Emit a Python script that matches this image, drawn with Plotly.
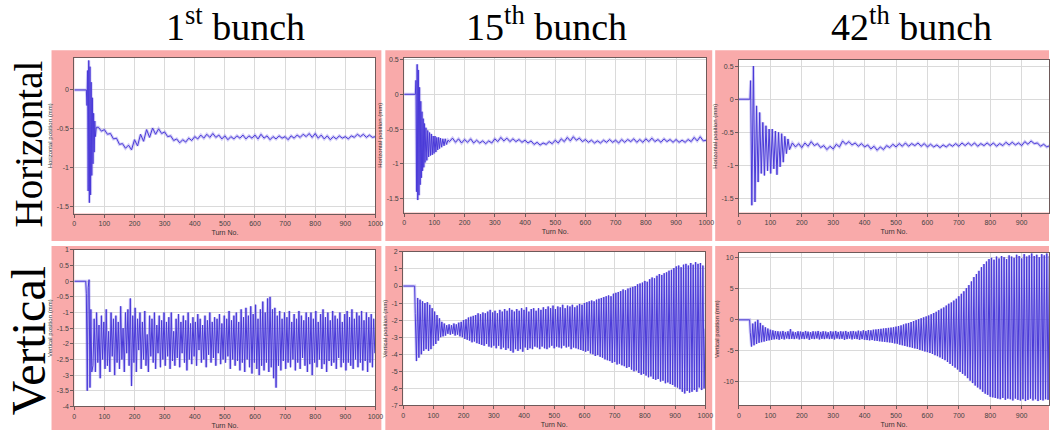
import plotly.graph_objects as go

W, H = 1057, 433

# ---------------- turn-by-turn beam position readings ----------------
# Horizontal, 1st bunch
h1_turn = [0, 40, 42, 44, 46, 48, 50, 52, 54, 56, 58, 60, 62, 64, 66, 68, 70, 73] + list(range(80, 1001, 10))
h1_pos = [0, 0, -0.2, 0.25, -1.3, 0.38, -1.45, 0.3, -1.35, 0.1, -1.1, -0.1, -0.95, -0.3, -0.8, -0.4, -0.6, -0.48,
          -0.48, -0.53, -0.51, -0.57, -0.56, -0.63, -0.62, -0.70, -0.69, -0.75, -0.71, -0.77, -0.64, -0.72, -0.57,
          -0.66, -0.51, -0.61, -0.49, -0.57, -0.50, -0.56, -0.54, -0.60, -0.59, -0.65, -0.63, -0.68, -0.64, -0.67,
          -0.62, -0.65, -0.60, -0.63, -0.58, -0.62, -0.57, -0.61, -0.56, -0.61, -0.58, -0.63, -0.59, -0.64, -0.60,
          -0.63, -0.59, -0.62, -0.58, -0.63, -0.59, -0.62, -0.58, -0.63, -0.57, -0.62, -0.59, -0.64, -0.60, -0.63,
          -0.59, -0.62, -0.60, -0.64, -0.59, -0.62, -0.58, -0.61, -0.57, -0.60, -0.56, -0.61, -0.56, -0.62, -0.58,
          -0.63, -0.59, -0.64, -0.60, -0.63, -0.59, -0.62, -0.60, -0.63, -0.59, -0.61, -0.57, -0.60, -0.57, -0.61,
          -0.58, -0.61, -0.60]

# Horizontal, 15th bunch
h2_turn = [0, 37, 39, 41, 43, 45, 47, 49, 51, 53, 55, 57, 59, 61, 63, 65, 67, 69, 72, 75,
           78, 81, 84, 87, 90, 93, 96, 99, 102, 105, 108, 111, 114, 117, 120, 124, 128, 132, 136, 140,
           145] + list(range(150, 1001, 10))
h2_pos = [0, 0, 0.2, -1.4, 0.43, -1.52, 0.35, -1.45, 0.1, -1.3, -0.1, -1.2, -0.25, -1.1, -0.35, -1.05, -0.42,
          -0.98, -0.48, -0.95, -0.52, -0.9, -0.55, -0.88, -0.57, -0.87, -0.6, -0.85, -0.6, -0.83, -0.62, -0.8,
          -0.62, -0.78, -0.63, -0.76, -0.64, -0.74, -0.64, -0.72, -0.66,
          -0.68, -0.63, -0.69, -0.64, -0.70, -0.65, -0.69, -0.64, -0.70, -0.66, -0.70, -0.67, -0.71, -0.67, -0.70,
          -0.64, -0.68, -0.62, -0.67, -0.63, -0.68, -0.64, -0.68, -0.65, -0.69, -0.66, -0.70, -0.67, -0.72, -0.69,
          -0.73, -0.70, -0.72, -0.68, -0.71, -0.66, -0.70, -0.64, -0.68, -0.62, -0.67, -0.61, -0.66, -0.63, -0.68,
          -0.65, -0.69, -0.66, -0.70, -0.67, -0.70, -0.66, -0.69, -0.65, -0.69, -0.66, -0.70, -0.65, -0.69, -0.65,
          -0.68, -0.64, -0.69, -0.65, -0.69, -0.64, -0.68, -0.63, -0.68, -0.65, -0.69, -0.64, -0.68, -0.65, -0.69,
          -0.65, -0.69, -0.66, -0.69, -0.65, -0.68, -0.62, -0.67, -0.61, -0.67, -0.66]

# Horizontal, 42th bunch
h3_turn = [0, 35, 37, 41, 46, 51, 56, 61, 66, 71, 76, 81, 86, 91, 96, 101, 106, 111, 116, 121,
           126, 131, 136, 141, 146, 151, 156, 161] + list(range(170, 991, 10))
h3_pos = [0, 0, 0.28, -1.6, 0.5, -1.55, -0.1, -1.25, -0.2, -1.12, -0.35, -1.15, -0.4, -1.08, -0.45, -1.12,
          -0.45, -1.05, -0.48, -1.14, -0.5, -1.02, -0.52, -0.95, -0.56, -0.82, -0.6, -0.76,
          -0.66, -0.72, -0.67, -0.73, -0.66, -0.71, -0.64, -0.70, -0.67, -0.73, -0.70, -0.76, -0.71, -0.75, -0.68,
          -0.72, -0.63, -0.68, -0.64, -0.69, -0.66, -0.71, -0.67, -0.72, -0.69, -0.75, -0.71, -0.77, -0.72, -0.76,
          -0.70, -0.73, -0.68, -0.72, -0.67, -0.71, -0.66, -0.71, -0.67, -0.70, -0.66, -0.71, -0.67, -0.72, -0.68,
          -0.72, -0.69, -0.73, -0.69, -0.72, -0.68, -0.71, -0.67, -0.71, -0.66, -0.70, -0.66, -0.70, -0.66, -0.71,
          -0.67, -0.70, -0.66, -0.70, -0.66, -0.71, -0.67, -0.70, -0.65, -0.69, -0.65, -0.69, -0.66, -0.70, -0.64,
          -0.68, -0.63, -0.67, -0.66, -0.71, -0.68, -0.72, -0.70]

# Vertical, 1st bunch
v1_turn = [0, 38, 40, 43, 46, 49, 52, 55, 58] + list(range(62, 1001, 4))
v1_pos = [0, 0, -0.4, -3.5, -0.2, 0.05, -3.4, -0.9, -2.9,
          -2.7, -1.2, -2.9, -1.0, -2.6, -1.4, -3.1, -1.1, -2.5, -1.3,
          -2.8, -0.9, -2.7, -1.6, -2.9, -1.0, -2.4, -1.2, -3.0, -1.1,
          -2.6, -1.3, -2.8, -0.8, -2.5, -1.5, -2.9, -1.0, -2.3, -0.9,
          -2.7, -0.55, -3.35, -1.1, -2.6, -0.85, -2.9, -1.2, -2.2, -1.0,
          -2.8, -1.3, -2.5, -0.95, -2.7, -1.7, -2.9, -1.1, -2.4, -1.2,
          -2.6, -1.0, -2.8, -1.4, -2.3, -1.1, -2.75, -1.25, -2.5, -1.0,
          -2.7, -1.3, -2.4, -1.15, -2.8, -1.0, -2.55, -1.6, -2.7, -1.2,
          -2.45, -1.05, -2.75, -1.3, -2.3, -1.1, -2.6, -1.25, -2.85, -1.0,
          -2.5, -1.35, -2.65, -1.15, -2.4, -1.3, -2.7, -1.05, -2.2, -1.2,
          -2.6, -1.4, -2.5, -1.1, -2.75, -1.25, -2.35, -1.0, -2.6, -1.3,
          -2.45, -1.15, -2.7, -1.2, -2.3, -1.05, -2.65, -1.35, -2.5, -1.1,
          -2.6, -1.2, -2.4, -0.95, -2.8, -1.25, -2.5, -1.1, -2.7, -1.0,
          -2.55, -1.3, -2.85, -0.9, -2.6, -1.15, -2.9, -0.85, -2.5, -1.1,
          -2.75, -0.8, -2.95, -1.05, -2.6, -0.75, -2.8, -1.2, -3.0, -0.9,
          -2.7, -0.65, -2.85, -1.0, -2.6, -0.55, -2.9, -0.5, -2.75, -0.9,
          -3.1, -0.85, -3.4, -1.1, -2.7, -0.95, -2.85, -1.2, -2.55, -1.0,
          -2.8, -1.15, -2.6, -0.95, -2.75, -1.3, -2.5, -1.05, -2.85, -1.2,
          -2.6, -0.95, -2.8, -1.1, -2.45, -1.25, -2.7, -1.0, -2.9, -1.15,
          -2.65, -1.0, -3.0, -1.2, -2.6, -0.95, -2.75, -1.3, -2.5, -1.05,
          -2.8, -0.9, -2.65, -1.15, -2.9, -1.0, -2.55, -1.25, -2.7, -0.95,
          -2.6, -1.1, -2.8, -1.2, -2.45, -1.0, -2.75, -1.3, -2.6, -1.05,
          -2.85, -0.95, -2.6, -1.15, -2.7, -0.9, -2.8, -1.2, -2.5, -1.0,
          -2.75, -1.1, -2.6, -0.95, -2.85, -1.25, -2.55, -1.0, -2.9, -1.15,
          -2.6, -1.05, -2.75, -1.2, -2.3]

# Vertical, 15th bunch
v2_turn = [0, 38] + list(range(40, 1001, 4))
v2_pos = [0, 0,
          -1.6, -4.4, -0.7, -4.2, -0.8, -4.0, -0.9, -3.8, -1.0, -3.7,
          -0.95, -3.8, -1.1, -3.7, -1.3, -3.5, -1.5, -3.4, -1.7, -3.2,
          -1.9, -3.0, -2.1, -2.95, -2.2, -2.9, -2.3, -2.8, -2.25, -2.85,
          -2.3, -2.8, -2.2, -2.9, -2.25, -2.85, -2.15, -2.95, -2.1, -3.0,
          -2.0, -3.1, -1.95, -3.15, -1.85, -3.2, -1.8, -3.3, -1.75, -3.25,
          -1.7, -3.35, -1.6, -3.4, -1.65, -3.45, -1.55, -3.5, -1.6, -3.4,
          -1.5, -3.55, -1.4, -3.6, -1.55, -3.5, -1.45, -3.65, -1.6, -3.5,
          -1.4, -3.7, -1.5, -3.6, -1.35, -3.75, -1.45, -3.65, -1.3, -3.8,
          -1.4, -3.9, -1.5, -3.7, -1.35, -3.8, -1.45, -3.7, -1.3, -3.85,
          -1.4, -3.6, -1.25, -3.75, -1.5, -3.65, -1.35, -3.7, -1.3, -3.55,
          -1.45, -3.6, -1.3, -3.7, -1.4, -3.55, -1.25, -3.65, -1.35, -3.7,
          -1.2, -3.6, -1.3, -3.5, -1.15, -3.65, -1.35, -3.55, -1.2, -3.6,
          -1.25, -3.65, -1.1, -3.5, -1.3, -3.6, -1.15, -3.55, -1.2, -3.7,
          -1.1, -3.6, -1.25, -3.65, -1.15, -3.7, -1.05, -3.75, -1.1, -3.8,
          -1.0, -3.85, -0.95, -3.8, -0.9, -3.95, -0.85, -4.0, -0.9, -4.1,
          -0.8, -4.05, -0.75, -4.15, -0.7, -4.2, -0.65, -4.3, -0.6, -4.35,
          -0.55, -4.4, -0.6, -4.5, -0.45, -4.45, -0.4, -4.6, -0.35, -4.55,
          -0.3, -4.65, -0.2, -4.7, -0.25, -4.8, -0.15, -4.75, -0.1, -4.9,
          -0.05, -5.0, 0.0, -4.95, 0.1, -5.1, 0.15, -5.2, 0.2, -5.15,
          0.3, -5.25, 0.25, -5.35, 0.4, -5.3, 0.5, -5.45, 0.45, -5.5,
          0.6, -5.45, 0.7, -5.6, 0.65, -5.55, 0.75, -5.7, 0.8, -5.65,
          0.9, -5.75, 0.95, -5.8, 1.05, -5.9, 1.15, -5.95, 1.2, -6.05,
          1.1, -6.2, 1.25, -6.3, 1.3, -6.15, 1.2, -6.25, 1.35, -6.2,
          1.25, -6.1, 1.4, -6.2, 1.3, -5.95, 1.35, -6.1, 1.2, -6.0,
          -2.5]

# Vertical, 42th bunch
v3_turn = [0, 34] + list(range(36, 989, 4))
v3_pos = [0, 0,
          -2.0, -4.3, -0.6, -4.1, -0.3, -3.9, 0.0, -3.7, -0.5, -3.6,
          -0.9, -3.5, -1.2, -3.4, -1.4, -3.3, -1.6, -3.2, -1.7, -3.15,
          -1.8, -3.1, -1.85, -3.2, -1.9, -3.05, -1.8, -3.15, -1.95, -3.0,
          -1.85, -3.1, -1.5, -3.05, -1.9, -3.1, -2.0, -3.0, -1.85, -3.15,
          -1.9, -3.05, -1.95, -3.1, -1.8, -3.0, -1.9, -3.2, -2.0, -3.05,
          -1.85, -3.1, -1.9, -3.0, -1.8, -3.15, -1.95, -3.05, -1.85, -3.1,
          -1.9, -3.0, -2.0, -3.1, -1.85, -3.05, -1.9, -3.15, -1.8, -3.0,
          -1.95, -3.1, -1.85, -3.05, -1.9, -3.2, -1.8, -3.1, -1.95, -3.0,
          -1.85, -3.15, -1.8, -3.05, -1.9, -3.1, -1.75, -3.2, -1.85, -3.1,
          -1.7, -3.2, -1.8, -3.25, -1.65, -3.3, -1.7, -3.25, -1.6, -3.35,
          -1.55, -3.4, -1.5, -3.45, -1.45, -3.5, -1.4, -3.55, -1.35, -3.6,
          -1.3, -3.65, -1.25, -3.7, -1.2, -3.8, -1.1, -3.85, -1.0, -4.0,
          -0.9, -4.1, -0.75, -4.2, -0.6, -4.3, -0.5, -4.4, -0.35, -4.5,
          -0.2, -4.6, -0.05, -4.7, 0.1, -4.85, 0.25, -4.95, 0.4, -5.1,
          0.55, -5.2, 0.7, -5.35, 0.9, -5.5, 1.1, -5.7, 1.3, -5.85,
          1.55, -6.05, 1.8, -6.3, 2.0, -6.5, 2.3, -6.8, 2.6, -7.1,
          2.8, -7.4, 3.1, -7.7, 3.4, -8.0, 3.8, -8.4, 4.2, -8.7,
          4.6, -9.0, 5.1, -9.4, 5.6, -9.8, 6.2, -10.2, 6.9, -10.6,
          7.4, -10.9, 7.9, -11.2, 8.5, -11.6, 9.0, -11.9, 9.4, -12.1,
          9.8, -12.4, 10.0, -12.5, 9.7, -12.6, 10.2, -12.7, 9.9, -12.8,
          10.3, -12.6, 10.1, -12.9, 9.8, -12.7, 10.4, -12.8, 10.2, -13.0,
          10.0, -12.7, 10.5, -12.9, 10.3, -13.0, 9.9, -12.8, 10.6, -13.1,
          10.2, -12.9, 10.4, -12.7, 10.7, -13.0, 10.3, -12.8, 10.5, -13.1,
          10.1, -12.9, 10.6, -13.0, 10.4, -12.8, 10.7, -12.9, 10.3]

for t, p in [(h1_turn, h1_pos), (h2_turn, h2_pos), (h3_turn, h3_pos),
             (v1_turn, v1_pos), (v2_turn, v2_pos), (v3_turn, v3_pos)]:
    assert len(t) == len(p), (len(t), len(p))

# axis ticks
turn_ticks_full = list(range(0, 1001, 100))
turn_ticks_cut = list(range(0, 901, 100))
h_ticks_a = [0, -0.5, -1, -1.5]
h_ticks_b = [0.5, 0, -0.5, -1, -1.5]
v1_ticks = [1, 0.5, 0, -0.5, -1, -1.5, -2, -2.5, -3, -3.5, -4]
v2_ticks = [2, 1, 0, -1, -2, -3, -4, -5, -6, -7]
v3_ticks = [10, 5, 0, -5, -10]

col_titles = ["1<sup>st</sup> bunch", "15<sup>th</sup> bunch", "42<sup>th</sup> bunch"]
row_titles = ["Horizontal", "Vertical"]

PINK = "#F9AAAA"
LINE = "#4A3AD8"
HALO = "rgba(125,112,232,0.35)"
GRID = "#DADADA"
FRAME = "#6E5A5A"


def fx(px):
    return px / W


def fy(py):
    return 1 - py / H


def fmt(v):
    return ("%g" % v)


# panel geometry in pixels: (left, right, top, bottom), y range, ticks, x ticks, y title
panels = [
    (h1_turn, h1_pos, (73, 377, 55, 213), [-1.59, 0.41], h_ticks_a, [0, 1000], turn_ticks_full, "Horizontal position (mm)"),
    (h2_turn, h2_pos, (406, 711, 55, 212), [-1.7, 0.52], h_ticks_b, [0, 1000], turn_ticks_full, "Horizontal position (mm)"),
    (h3_turn, h3_pos, (744, 1057, 57, 212), [-1.71, 0.59], h_ticks_b, [0, 987], turn_ticks_cut, "Horizontal position (mm)"),
    (v1_turn, v1_pos, (73, 377, 250, 409), [-4, 1], v1_ticks, [0, 1000], turn_ticks_full, "Vertical position (mm)"),
    (v2_turn, v2_pos, (405, 710, 252, 408), [-7, 2], v2_ticks, [0, 1000], turn_ticks_full, "Vertical position (mm)"),
    (v3_turn, v3_pos, (744, 1057, 253, 408), [-13.8, 10.8], v3_ticks, [0, 987], turn_ticks_cut, "Vertical position (mm)"),
]

fig = go.Figure()
layout = dict(
    width=W, height=H, margin=dict(l=0, r=0, t=0, b=0),
    paper_bgcolor="white", plot_bgcolor="white", showlegend=False,
    shapes=[], annotations=[],
)

tick_font = dict(family="Liberation Sans, Arial, sans-serif", size=7, color="#444444")
small_title = dict(family="Liberation Sans, Arial, sans-serif", size=6, color="#333333")

# pink panel backgrounds
cols_px = [(50, 383), (387, 717), (720, 1057)]
rows_px = [(47, 241), (246, 433)]
for (y0, y1) in rows_px:
    for (x0, x1) in cols_px:
        layout["shapes"].append(dict(type="rect", xref="paper", yref="paper", layer="below",
                                     x0=fx(x0), x1=fx(x1), y0=fy(y1), y1=fy(y0),
                                     fillcolor=PINK, line=dict(width=0)))

for i, (turns, pos, (l, r, t, b), yr, yt, xr, xt, ytitle) in enumerate(panels, start=1):
    sfx = "" if i == 1 else str(i)
    xa, ya = "x" + sfx, "y" + sfx
    # white plotting area on top of the pink panel
    layout["shapes"].append(dict(type="rect", xref="paper", yref="paper", layer="below",
                                 x0=fx(l), x1=fx(r), y0=fy(b), y1=fy(t),
                                 fillcolor="white", line=dict(width=0)))
    for color, width in [(HALO, 3), (LINE, 1)]:
        fig.add_trace(go.Scatter(x=turns, y=pos, mode="lines", xaxis=xa, yaxis=ya,
                                 line=dict(color=color, width=width), hoverinfo="skip"))
    layout["xaxis" + sfx] = dict(
        domain=[fx(l), fx(r)], anchor=ya, range=xr,
        tickvals=xt, ticktext=[str(v) for v in xt],
        showgrid=True, gridcolor=GRID, gridwidth=1, zeroline=False,
        showline=True, linecolor=FRAME, linewidth=1, mirror=True,
        ticks="outside", ticklen=3, tickcolor=FRAME, tickfont=tick_font,
        title=dict(text="Turn No.", font=dict(small_title, size=7), standoff=4),
    )
    layout["yaxis" + sfx] = dict(
        domain=[fy(b), fy(t)], anchor=xa, range=yr,
        tickvals=yt, ticktext=[fmt(v) for v in yt],
        showgrid=True, gridcolor=GRID, gridwidth=1, zeroline=False,
        showline=True, linecolor=FRAME, linewidth=1, mirror=True,
        ticks="outside", ticklen=3, tickcolor=FRAME, tickfont=tick_font,
        title=dict(text=ytitle, font=small_title, standoff=3),
    )

# column headers
for text, cx in zip(col_titles, [236, 550, 918]):
    layout["annotations"].append(dict(
        text=text, xref="paper", yref="paper", x=fx(cx), y=fy(20), showarrow=False,
        xanchor="center", yanchor="middle",
        font=dict(family="Liberation Serif, Times New Roman, serif", size=38, color="black")))

# row headers
for text, cy, size in zip(row_titles, [142, 342], [39, 48]):
    layout["annotations"].append(dict(
        text=text, xref="paper", yref="paper", x=fx(27), y=fy(cy), textangle=-90, showarrow=False,
        xanchor="center", yanchor="middle",
        font=dict(family="Liberation Serif, Times New Roman, serif", size=size, color="black")))

fig.update_layout(**layout)
fig.write_html("out.html")
